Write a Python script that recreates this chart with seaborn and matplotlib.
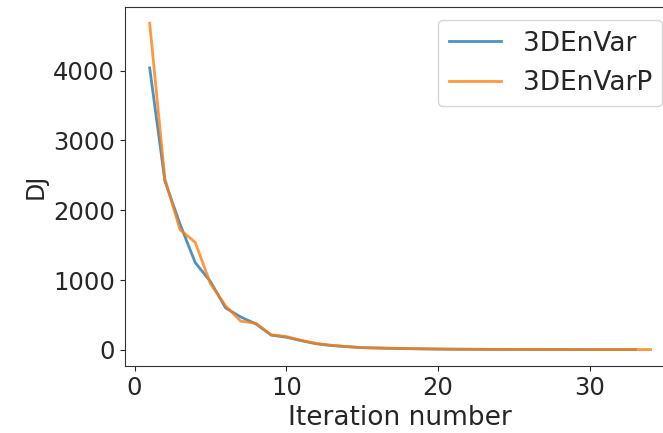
import numpy as np
import pandas as pd
import seaborn as sns
import matplotlib.pyplot as plt

# iteration numbers
iters_a = list(range(1, 34))
iters_b = list(range(1, 35))

# DJ values
dj_3denvar = [4040, 2420, 1800, 1250, 980, 600, 470, 370, 210, 180,
              130, 85, 60, 45, 30, 25, 20, 16, 13, 10,
              8, 7, 6, 5, 5, 4, 4, 4, 3, 3,
              3, 3, 3]
dj_3denvarp = [4680, 2450, 1720, 1540, 950, 630, 410, 380, 215, 190,
               135, 90, 65, 45, 30, 26, 21, 17, 13, 11,
               9, 8, 7, 6, 5, 5, 4, 4, 4, 3,
               3, 3, 3, 3]

df = pd.concat([
    pd.DataFrame({'iter': iters_a, 'DJ': dj_3denvar, 'method': '3DEnVar'}),
    pd.DataFrame({'iter': iters_b, 'DJ': dj_3denvarp, 'method': '3DEnVarP'}),
])

plt.rcParams['font.size'] = 18
plt.rcParams['text.color'] = '#262626'
plt.rcParams['axes.labelcolor'] = '#262626'
plt.rcParams['xtick.color'] = '#262626'
plt.rcParams['ytick.color'] = '#262626'
plt.rcParams['axes.edgecolor'] = '#333333'

fig = plt.figure(figsize=(6.63, 4.33), dpi=100)
# right spine falls outside the picture, as in the reference
ax = fig.add_axes([0.188, 0.155, 0.831, 0.829])

sns.lineplot(data=df, x='iter', y='DJ', hue='method',
             palette=['#1f77b4', '#ff7f0e'], alpha=0.8, linewidth=2, ax=ax)

ax.set_xlabel('Iteration number', fontsize=19)
ax.set_ylabel('DJ', fontsize=17)
ax.set_xticks([0, 10, 20, 30])
ax.set_yticks([0, 1000, 2000, 3000, 4000])
ax.tick_params(labelsize=17.5)
ax.legend(title=None, loc='upper right', fontsize=19)

plt.savefig('out.png')
